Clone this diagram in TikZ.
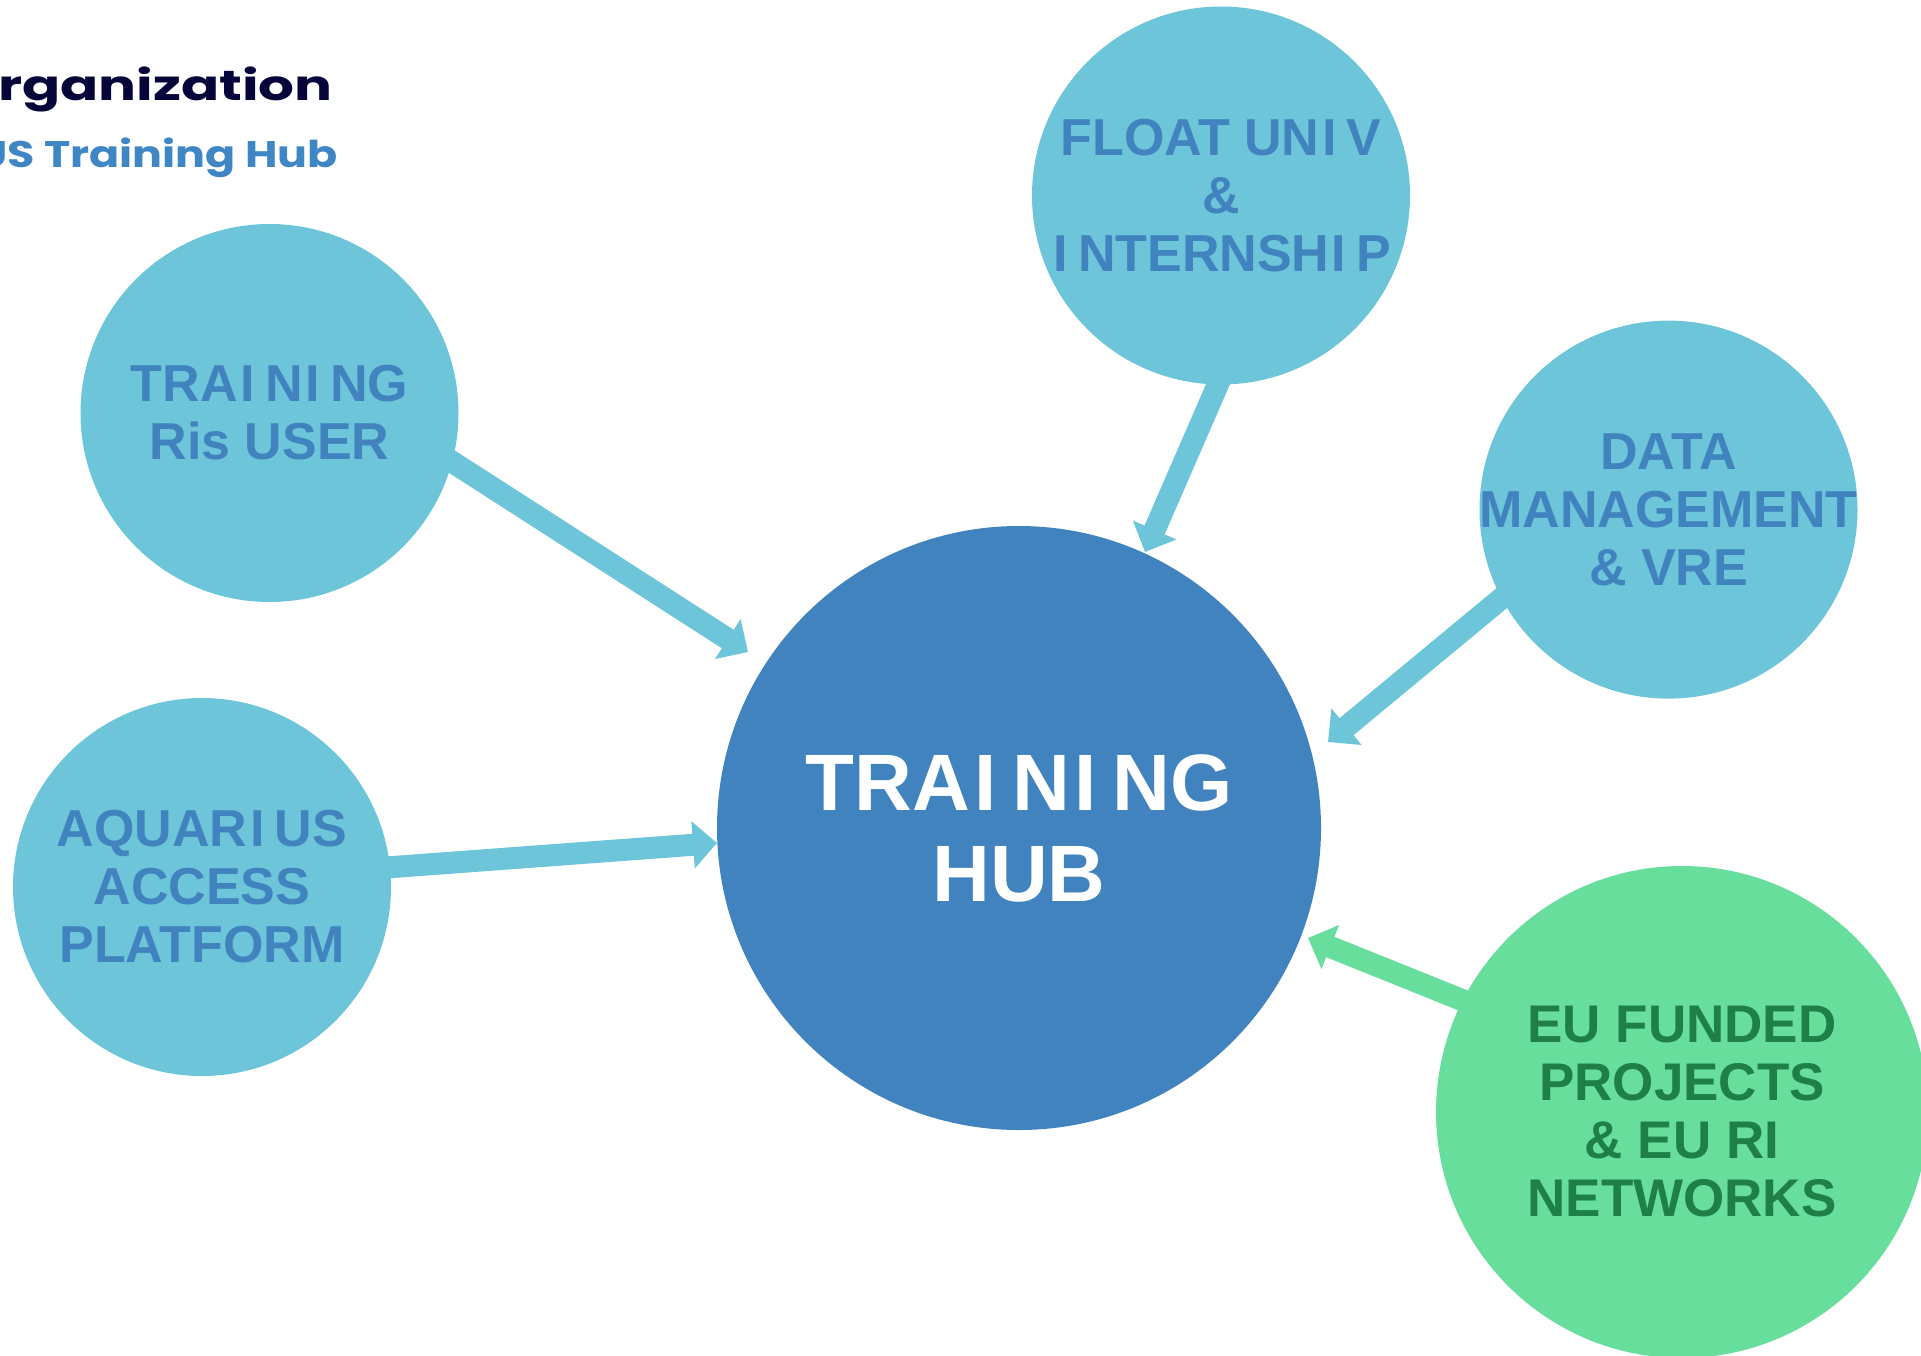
\documentclass[tikz,border=0pt]{standalone}
\usepackage{fontspec}
\setmainfont{Liberation Sans}
\newfontfamily\popfont{Poppins}
\usetikzlibrary{arrows.meta,calc,backgrounds}
\definecolor{satfill}{HTML}{6CC5D9}
\definecolor{hubblue}{HTML}{4183BF}
\definecolor{eugreen}{HTML}{68DE9C}
\definecolor{eutext}{HTML}{1E7F47}
\definecolor{navy}{HTML}{05053A}
\definecolor{subblue}{HTML}{3F86C5}
\newcommand\xI{\kern0.05em I\kern0.2em}
\tikzset{
  satcircle/.style={circle, fill=satfill, minimum size=189pt, inner sep=0pt},
  huball/.style={circle, fill=hubblue, minimum size=302pt, inner sep=0pt},
  euball/.style={circle, fill=eugreen, minimum size=246pt, inner sep=0pt},
  sattext/.style={text=hubblue, font=\bfseries\fontsize{26}{29}\selectfont, align=center, inner sep=0pt},
  hubtext/.style={text=white, font=\bfseries\fontsize{40}{45.5}\selectfont, align=center, inner sep=0pt},
  eutextst/.style={text=eutext, font=\bfseries\fontsize{26.5}{29}\selectfont, align=center, inner sep=0pt},
  link/.style={line width=11pt, draw=satfill, -{Triangle[length=12pt,width=23pt]}},
  eulink/.style={link, draw=eugreen},
}
\begin{document}
\begin{tikzpicture}[x=0.5pt, y=-0.5pt]
\useasboundingbox (0,0) rectangle (1921,1355);
% titles
\node[anchor=base east, inner sep=0pt, text=navy, font=\popfont\bfseries\fontsize{21}{25}\selectfont] (title) at (333,100) {\scalebox{1.34}[1]{rganization}};
\node[anchor=base east, inner sep=0pt, text=subblue, font=\popfont\bfseries\fontsize{18.5}{22}\selectfont] (subtitle) at (338,167) {\scalebox{1.2}[1]{US Training Hub}};
% circles
\node[huball] (hub) at (1019,828) {};
\node[satcircle] (ris) at (269.5,413) {};
\node[satcircle] (aqua) at (202,887) {};
\node[satcircle] (float) at (1221,195.5) {};
\node[satcircle] (data) at (1668.5,509.6) {};
\node[euball] (eu) at (1682,1112) {};
% texts
\node[hubtext] (hub-t) at (hub) {TRA\xI N\xI NG\\HUB};
\node[sattext] (ris-t) at (ris) {TRA\xI N\xI NG\\Ris USER};
\node[sattext] (aqua-t) at (aqua) {AQUAR\xI US\\ACCESS\\PLATFORM};
\node[sattext] (float-t) at (float) {FLOAT UN\xI V\\\&\\\xI NTERNSH\xI P};
\node[sattext] (data-t) at (data) {DATA\\MANAGEMENT\\\& VRE};
\node[eutextst] (eu-t) at (eu) {EU FUNDED\\PROJECTS\\\& EU RI\\NETWORKS};
% arrow tips
\coordinate (t1) at (748,652);
\coordinate (t2) at (717,843);
\coordinate (t3) at (1145,552);
\coordinate (t4) at (1328,742);
\coordinate (t5) at (1308,938);
\begin{scope}[on background layer]
\draw[link] ($(ris.-15.4)!-0.1!(t1)$) -- (t1);
\draw[link] ($(aqua.6.7)!-0.1!(t2)$) -- (t2);
\draw[link] ($(float.-91.4)!-0.1!(t3)$) -- (t3);
\draw[link] ($(data.-152.5)!-0.1!(t4)$) -- (t4);
\draw[eulink] ($(eu.153.6)!-0.1!(t5)$) -- (t5);
\end{scope}
\end{tikzpicture}
\end{document}
